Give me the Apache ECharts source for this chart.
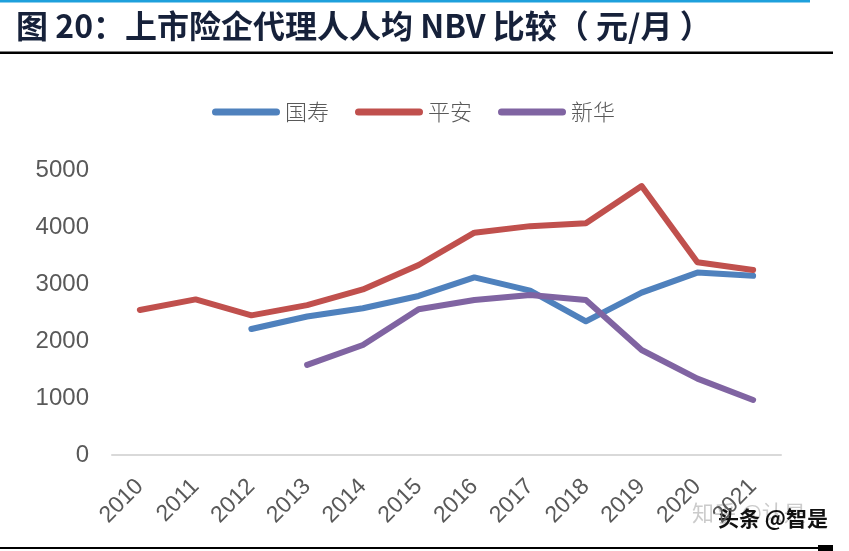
<!DOCTYPE html>
<html>
<head>
<meta charset="utf-8">
<script src="https://cdn.jsdelivr.net/npm/echarts@6/dist/echarts.min.js"></script>
<style>
html,body{margin:0;padding:0;background:#fff;}
#chart{width:849px;height:551px;}
</style>
</head>
<body>
<div id="chart"></div>
<script>
var years = ['2010','2011','2012','2013','2014','2015','2016','2017','2018','2019','2020','2021'];
var guoshou = [null, null, 2210, 2430, 2575, 2790, 3115, 2885, 2345, 2848, 3200, 3145];
var pingan = [2545, 2730, 2450, 2630, 2905, 3333, 3900, 4015, 4064, 4718, 3380, 3246];
var xinhua = [null, null, null, 1580, 1930, 2556, 2719, 2807, 2719, 1842, 1340, 965];
var seriesNames = ['国寿', '平安', '新华'];
var yTicks = [0, 1000, 2000, 3000, 4000, 5000];

var colors = ['#4f81bd', '#c0504d', '#8064a2'];
var chart = echarts.init(document.getElementById('chart'), null, {renderer: 'canvas'});
var iconPath = 'path://M3.5,0 L64.5,0 A3.5,3.5 0 0 1 64.5,7 L3.5,7 A3.5,3.5 0 0 1 3.5,0 Z';

function mkSeries(name, data, color) {
  return {
    name: name, type: 'line', data: data, showSymbol: false, symbol: 'none',
    connectNulls: false,
    lineStyle: {color: color, width: 6, cap: 'round', join: 'round'},
    itemStyle: {color: color}
  };
}

chart.setOption({
  animation: false,
  backgroundColor: '#ffffff',
  title: {
    text: '图 20：上市险企代理人人均 NBV 比较（ 元/月 ）',
    left: 16, top: 10, padding: 0,
    textStyle: {fontFamily: 'Noto Sans CJK SC', fontWeight: 'bold', fontSize: 32, color: '#16213a'}
  },
  legend: {
    data: seriesNames,
    left: 212, top: 101, padding: 0,
    itemWidth: 68, itemHeight: 7, itemGap: 26,
    icon: iconPath,
    textStyle: {fontFamily: 'Noto Sans CJK SC', fontSize: 22, color: '#595959', fontWeight: 300}
  },
  grid: {left: 112, right: 68, top: 170, bottom: 96, containLabel: false, outerBoundsMode: 'none'},
  xAxis: {
    type: 'category', data: years, boundaryGap: true,
    axisLine: {lineStyle: {color: '#d9d9d9', width: 2}},
    axisTick: {show: false},
    axisLabel: {rotate: 45, fontFamily: 'Liberation Sans', fontSize: 23, color: '#595959', margin: 28, interval: 0}
  },
  yAxis: {
    type: 'value', min: yTicks[0], max: yTicks[yTicks.length - 1], interval: 1000,
    axisLine: {show: false}, axisTick: {show: false}, splitLine: {show: false},
    axisLabel: {fontFamily: 'Liberation Sans', fontSize: 24, color: '#595959', margin: 23,
      formatter: function (v) { return String(v); }}
  },
  series: [
    mkSeries(seriesNames[0], guoshou, colors[0]),
    mkSeries(seriesNames[1], pingan, colors[1]),
    mkSeries(seriesNames[2], xinhua, colors[2])
  ],
  graphic: [
    {type: 'rect', shape: {x: 0, y: 0, width: 810, height: 2.5}, style: {fill: '#1ea0dc'}, silent: true},
    {type: 'rect', shape: {x: 0, y: 51.5, width: 833, height: 2.5}, style: {fill: '#000000'}, silent: true},
    {type: 'rect', shape: {x: 0, y: 547, width: 820, height: 2}, style: {fill: '#000000'}, silent: true},
    {type: 'rect', shape: {x: 818, y: 545, width: 15, height: 6}, style: {fill: '#000000'}, silent: true},
    {type: 'text', left: 692, top: 502, style: {text: '知乎 @认是', fontFamily: 'Noto Sans CJK SC', fontSize: 22, fill: 'rgba(190,190,190,0.8)'}, silent: true},
    {type: 'text', left: 718, top: 508, style: {text: '头条 @智是', fontFamily: 'Noto Sans CJK SC', fontWeight: 'bold', fontSize: 21, fill: '#111111'}, silent: true}
  ]
});
</script>
</body>
</html>
